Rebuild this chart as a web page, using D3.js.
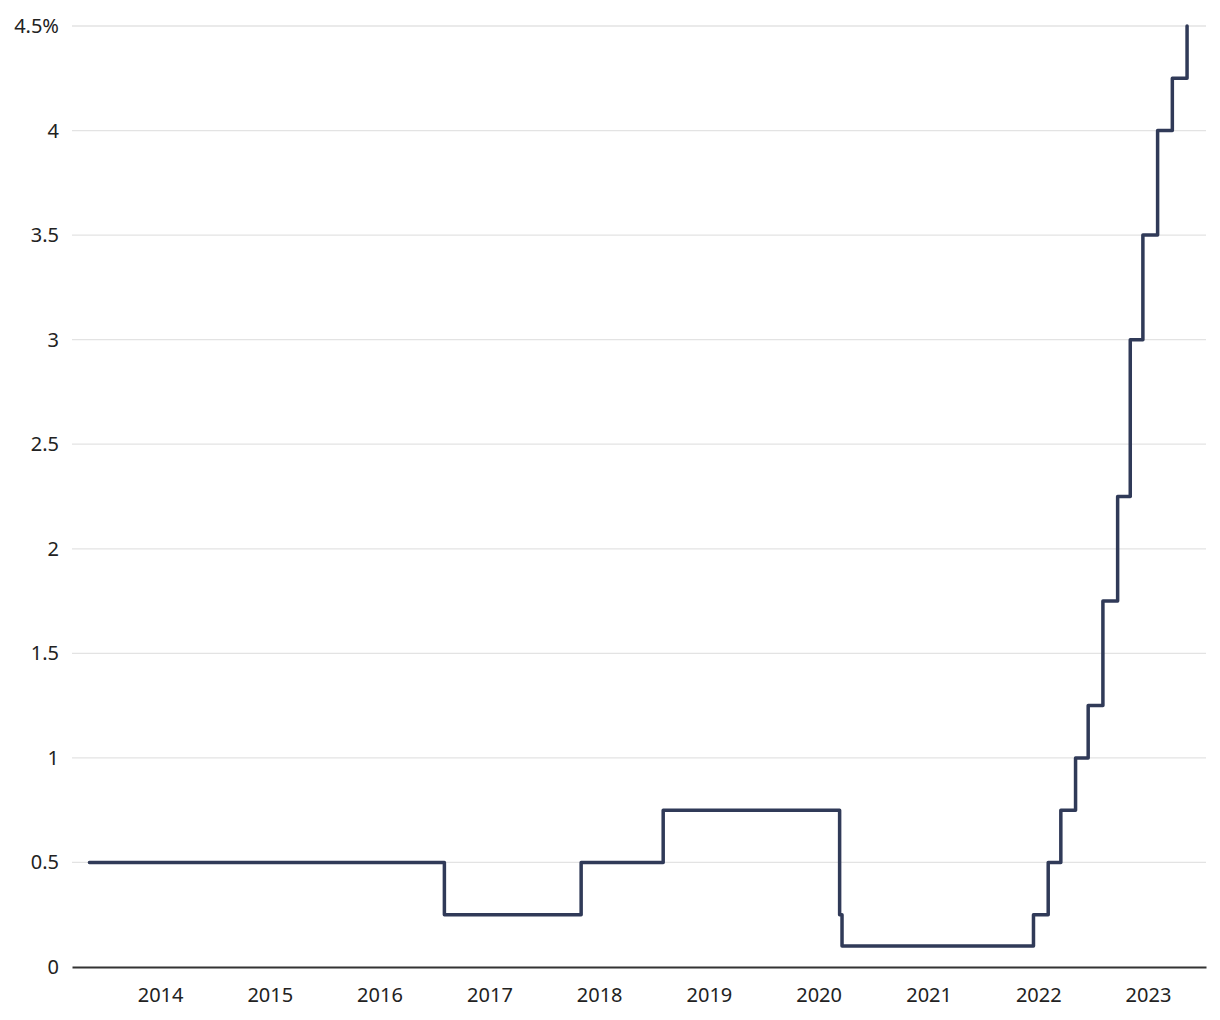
<!DOCTYPE html>
<html>
<head>
<meta charset="utf-8">
<script src="https://cdn.jsdelivr.net/npm/d3@7"></script>
<style>
  html, body { margin: 0; padding: 0; background: #fff; }
  svg text { font-family: "Source Sans Pro", "Noto Sans", "Open Sans", sans-serif; fill: #222; }
</style>
</head>
<body>
<svg id="chart" width="1220" height="1020"></svg>
<script>
// Bank Rate changes (date, %)
const dates = ["2013-05-11","2016-08-04","2017-11-02","2018-08-02","2020-03-11","2020-03-19",
  "2021-12-16","2022-02-03","2022-03-17","2022-05-05","2022-06-16","2022-08-04","2022-09-22",
  "2022-11-03","2022-12-15","2023-02-02","2023-03-23","2023-05-11"];
const rates = [0.5,0.25,0.5,0.75,0.25,0.1,0.25,0.5,0.75,1.0,1.25,1.75,2.25,3.0,3.5,4.0,4.25,4.5];
const yTicks = [0,0.5,1,1.5,2,2.5,3,3.5,4,4.5];
const yTickLabels = ["0","0.5","1","1.5","2","2.5","3","3.5","4","4.5%"];
const xTickYears = [2014,2015,2016,2017,2018,2019,2020,2021,2022,2023];

const parse = d3.utcParse("%Y-%m-%d");
const data = dates.map((d, i) => ({ date: parse(d), value: rates[i] }));

const svg = d3.select("#chart");
const mLeft = 72, mRight = 1206, mTop = 26, mBottom = 967;
const fontSize = 20;

const x = d3.scaleUtc()
  .domain([parse("2013-03-14"), parse("2023-07-13")])
  .range([mLeft, mRight]);
const y = d3.scaleLinear().domain([0, 4.5]).range([mBottom, mTop]);

// gridlines
svg.append("g").selectAll("line")
  .data(yTicks.filter(t => t !== 0))
  .join("line")
  .attr("x1", mLeft).attr("x2", mRight)
  .attr("y1", d => y(d)).attr("y2", d => y(d))
  .attr("stroke", "#e3e3e3").attr("stroke-width", 1.3);

// y labels
svg.append("g").selectAll("text")
  .data(yTicks)
  .join("text")
  .attr("x", 59).attr("y", d => y(d))
  .attr("dy", "0.35em")
  .attr("text-anchor", "end")
  .attr("font-size", fontSize)
  .text((d, i) => yTickLabels[i]);

// x axis
const xAxis = d3.axisBottom(x)
  .tickValues(xTickYears.map(yr => new Date(Date.UTC(yr, 0, 1))))
  .tickFormat(d3.utcFormat("%Y"))
  .tickSize(0)
  .tickPadding(21);
const gx = svg.append("g").attr("transform", `translate(0,${mBottom})`).call(xAxis);
gx.select(".domain").attr("stroke", "#333").attr("stroke-width", 2);
gx.selectAll("text").attr("font-size", fontSize).attr("fill", "#222")
  .style("font-family", '"Source Sans Pro", "Noto Sans", "Open Sans", sans-serif');

// line
const line = d3.line()
  .x(d => x(d.date))
  .y(d => y(d.value))
  .curve(d3.curveStepAfter);

svg.append("path")
  .datum(data)
  .attr("fill", "none")
  .attr("stroke", "#303a58")
  .attr("stroke-width", 3.5)
  .attr("stroke-linejoin", "round")
  .attr("stroke-linecap", "round")
  .attr("d", line);
</script>
</body>
</html>
